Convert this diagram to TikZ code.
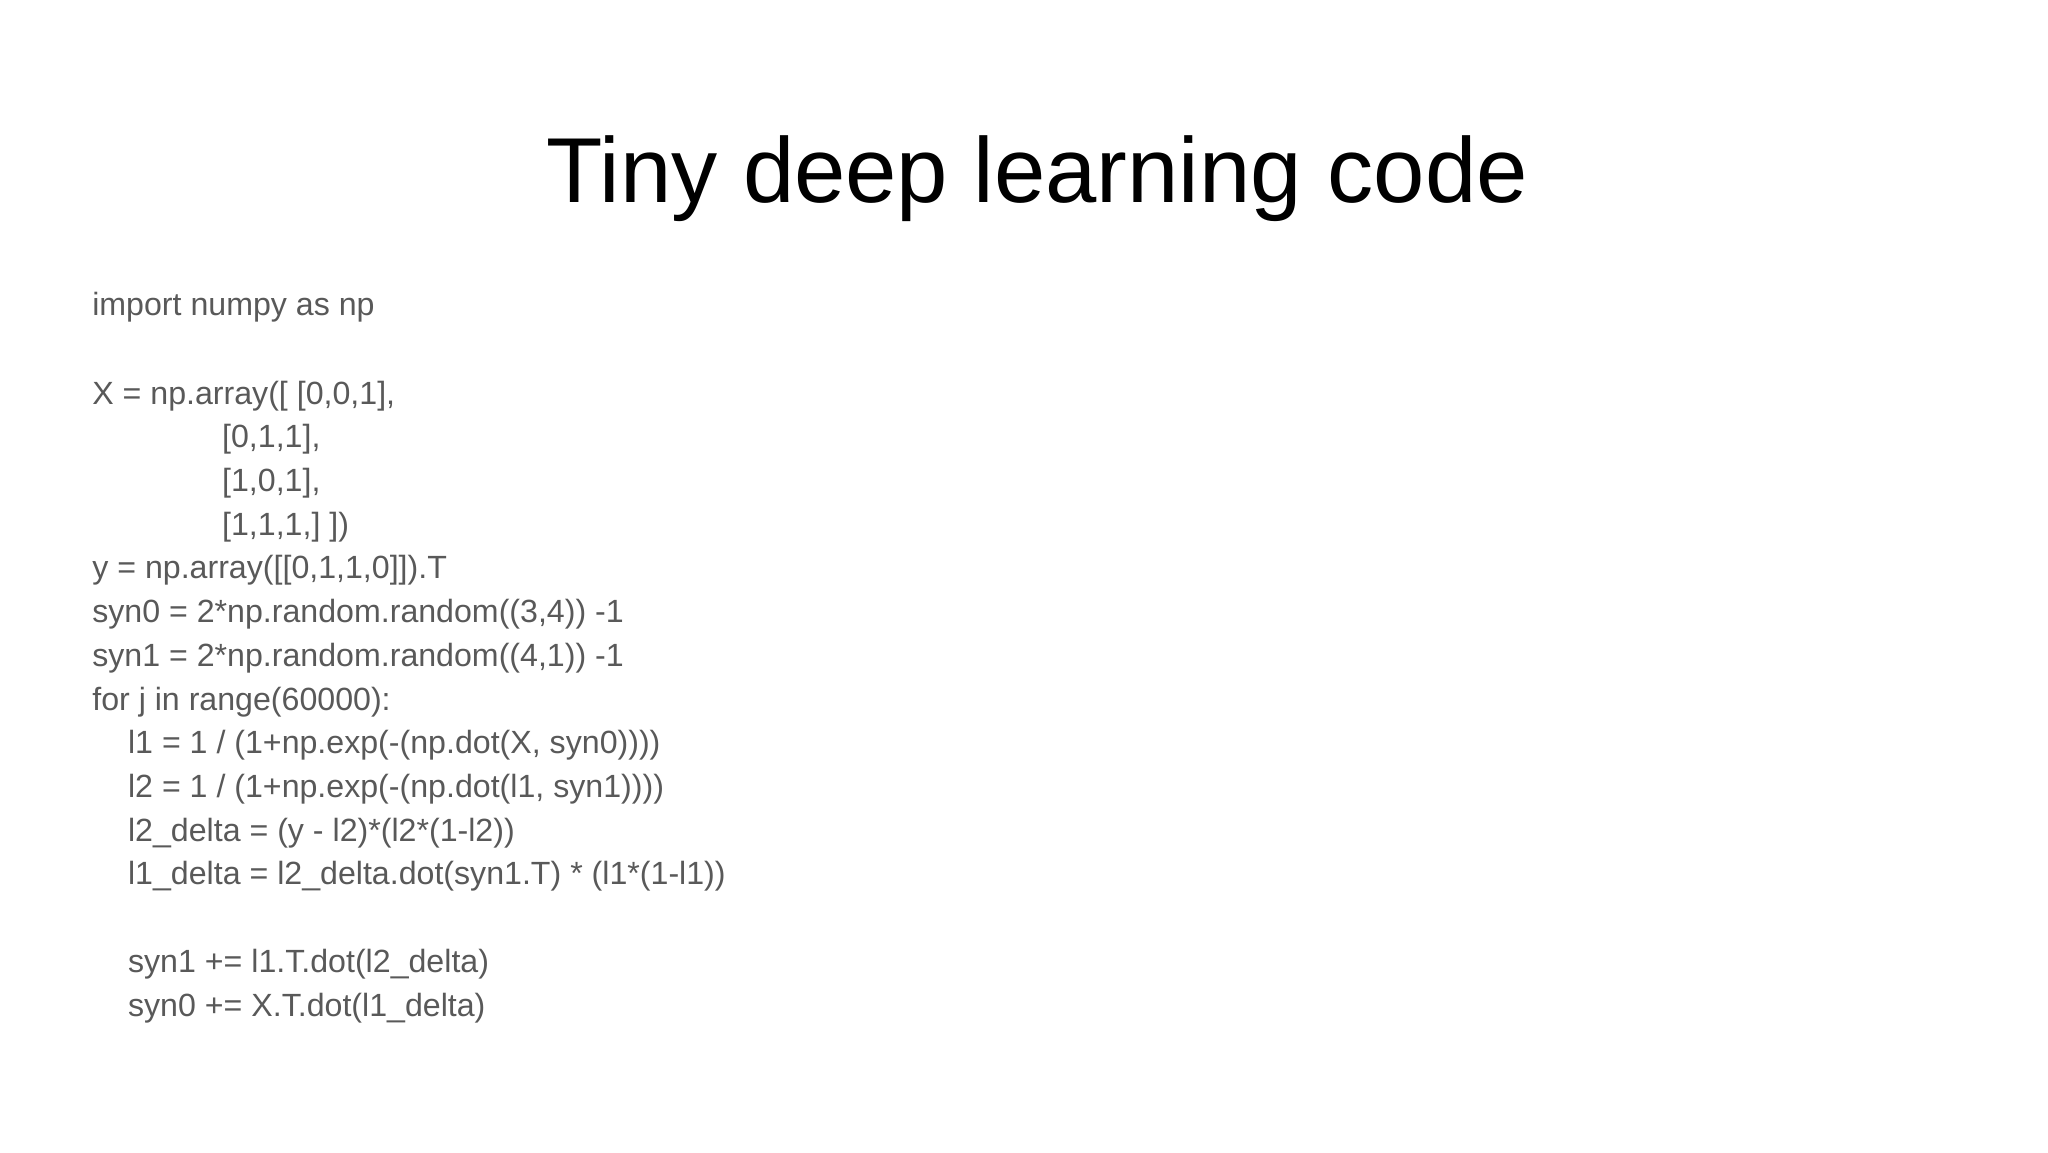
\documentclass[tikz,border=0pt]{standalone}
\usepackage{fontspec}
\setmainfont{Liberation Sans}
\definecolor{codegray}{HTML}{595959}
\begin{document}
\begin{tikzpicture}[x=0.01cm,y=-0.01cm,
  code/.style={anchor=base west,inner sep=0pt,text=codegray,font=\fontsize{6.9pt}{8pt}\selectfont},
  ttl/.style={anchor=base,inner sep=0pt,font=\fontsize{19.8pt}{22pt}\selectfont}]
\useasboundingbox (0,0) rectangle (1546,870);
\node[ttl] (title) at (783,153) {Tiny deep learning code};
\node[code] (c1) at (69,238) {import numpy as np};
\node[code] (c2) at (69,305) {X = np.array([ [0,0,1],};
\node[code] (c3) at (167,338) {[0,1,1],};
\node[code] (c4) at (167,371) {[1,0,1],};
\node[code] (c5) at (167,404) {[1,1,1,] ])};
\node[code] (c6) at (69,437) {y = np.array([[0,1,1,0]]).T};
\node[code] (c7) at (69,470) {syn0 = 2*np.random.random((3,4)) -1};
\node[code] (c8) at (69,503) {syn1 = 2*np.random.random((4,1)) -1};
\node[code] (c9) at (69,536) {for j in range(60000):};
\node[code] (c10) at (96,569) {l1 = 1 / (1+np.exp(-(np.dot(X, syn0))))};
\node[code] (c11) at (96,602) {l2 = 1 / (1+np.exp(-(np.dot(l1, syn1))))};
\node[code] (c12) at (96,635) {l2\_delta = (y - l2)*(l2*(1-l2))};
\node[code] (c13) at (96,668) {l1\_delta = l2\_delta.dot(syn1.T) * (l1*(1-l1))};
\node[code] (c14) at (96,734) {syn1 += l1.T.dot(l2\_delta)};
\node[code] (c15) at (96,767) {syn0 += X.T.dot(l1\_delta)};
\end{tikzpicture}
\end{document}
